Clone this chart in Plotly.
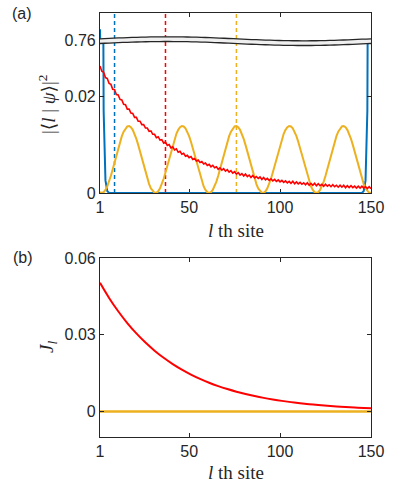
import numpy as np
import plotly.graph_objects as go

# ---- data -------------------------------------------------------------
sites = list(range(1, 151))

# |<l|psi>|^2 of the red state, units of 1e-4 (alternates from site to site)
red_a = [262, 251, 249, 238, 236, 226, 224, 214, 213, 203,
         202, 193, 192, 183, 182, 173, 173, 165, 164, 156,
         156, 148, 148, 141, 141, 134, 134, 127, 128, 121,
         121, 114, 116, 109, 110, 103, 105, 98, 100, 93,
         95, 89, 91, 84, 86, 80, 82, 76, 78, 73,
         75, 69, 71, 66, 68, 63, 65, 60, 62, 57,
         59, 54, 57, 52, 54, 49, 52, 47, 50, 45,
         48, 43, 46, 41, 44, 39, 42, 37, 40, 35,
         39, 34, 37, 32, 36, 31, 34, 30, 33, 28,
         32, 27, 30, 26, 29, 25, 28, 24, 27, 23,
         26, 22, 25, 21, 24, 20, 24, 19, 23, 19,
         22, 18, 21, 17, 21, 16, 20, 16, 20, 15,
         19, 15, 18, 14, 18, 14, 17, 13, 17, 13,
         16, 12, 16, 12, 16, 11, 15, 11, 15, 11,
         14, 10, 14, 10, 14, 10, 13, 9, 13, 9]

# |<l|psi>|^2 of the orange state, units of 1e-4
orange_a = [1.6,
            0, 1.6, 6.2, 13.6, 23.6, 35.6, 49.1, 63.5, 78.2, 92.4,
            105.6, 117.2, 126.5, 133.3, 137.1, 137.9, 135.6, 130.2, 122.1, 111.6,
            99.2, 85.4, 70.9, 56.2, 42.2, 29.3, 18.3, 9.5, 3.5, 0.4,
            0.4, 3.5, 9.5, 18.3, 29.3, 42.2, 56.2, 70.9, 85.4, 99.2,
            111.6, 122.1, 130.2, 135.6, 137.9, 137.1, 133.3, 126.5, 117.2, 105.6,
            92.4, 78.2, 63.5, 49.1, 35.6, 23.6, 13.6, 6.2, 1.6, 0,
            1.6, 6.2, 13.6, 23.6, 35.6, 49.1, 63.5, 78.2, 92.4, 105.6,
            117.2, 126.5, 133.3, 137.1, 137.9, 135.6, 130.2, 122.1, 111.6, 99.2,
            85.4, 70.9, 56.2, 42.2, 29.3, 18.3, 9.5, 3.5, 0.4, 0.4,
            3.5, 9.5, 18.3, 29.3, 42.2, 56.2, 70.9, 85.4, 99.2, 111.6,
            122.1, 130.2, 135.6, 137.9, 137.1, 133.3, 126.5, 117.2, 105.6, 92.4,
            78.2, 63.5, 49.1, 35.6, 23.6, 13.6, 6.2, 1.6, 0,
            1.6, 6.2, 13.6, 23.6, 35.6, 49.1, 63.5, 78.2, 92.4, 105.6,
            117.2, 126.5, 133.3, 137.1, 137.9, 135.6, 130.2, 122.1, 111.6, 99.2,
            85.4, 70.9, 56.2, 42.2, 29.3, 18.3, 9.5, 3.5, 0.4, 0.4]

# blue edge state, only non-zero at the two ends
blue_l = [1, 2, 3, 4, 5, 6, 145, 146, 147, 148, 149, 150]
blue_a = [0.776, 0.115, 0.017, 0.0026, 0.0004, 0, 0, 0.0004, 0.0026, 0.017, 0.115, 0.75]

# dashed markers (site)
mark_l = [9, 37, 76]

# current J_l, red, units of 1e-4
j_l = [1, 6, 11, 16, 21, 26, 31, 36, 41, 46, 51, 56, 61, 66, 71, 76,
       81, 86, 91, 96, 101, 106, 111, 116, 121, 126, 131, 136, 141, 146, 150]
j_red = [503, 443.9, 391.7, 345.7, 305.1, 269.2, 237.6, 209.7, 185.0, 163.3,
         144.1, 127.2, 112.2, 99.0, 87.4, 77.1, 68.1, 60.1, 53.0, 46.8,
         41.3, 36.4, 32.1, 28.4, 25.0, 22.1, 19.5, 17.2, 15.2, 13.4, 12.1]
j_orange_l = [1, 150]
j_orange = [0, 0]

BLUE, ORANGE, RED, AX = '#0072BD', '#EDB120', '#FF0000', '#262626'

# ---- geometry ---------------------------------------------------------
W, H = 399, 483
ML, MR, MT, MB = 100, 28, 13, 46
pw, ph = W - ML - MR, H - MT - MB


def fx(px):  # screen px -> paper
    return (px - ML) / pw


def fy(py):
    return (H - MB - py) / ph


dom_b = [0, fy(258)]
dom_lo = [fy(193), fy(40)]
dom_hi = [fy(40), 1]

fig = go.Figure()

# top panel, lower segment
fig.add_trace(go.Scatter(x=blue_l, y=blue_a, mode='lines', line=dict(color=BLUE, width=2),
                         xaxis='x', yaxis='y', showlegend=False))
fig.add_trace(go.Scatter(x=sites, y=[v * 1e-4 for v in orange_a], mode='lines',
                         line=dict(color=ORANGE, width=2), xaxis='x', yaxis='y', showlegend=False))
fig.add_trace(go.Scatter(x=sites, y=[v * 1e-4 for v in red_a], mode='lines',
                         line=dict(color=RED, width=1.6), xaxis='x', yaxis='y', showlegend=False))
# top panel, upper segment
fig.add_trace(go.Scatter(x=blue_l, y=blue_a, mode='lines', line=dict(color=BLUE, width=2),
                         xaxis='x', yaxis='y2', showlegend=False))
fig.add_trace(go.Scatter(x=[1, 150], y=[0.70, 0.70], mode='lines', line=dict(width=0),
                         xaxis='x3', yaxis='y2', showlegend=False, hoverinfo='skip'))
# bottom panel
fig.add_trace(go.Scatter(x=j_l, y=[v * 1e-4 for v in j_red], mode='lines', line_shape='spline',
                         line=dict(color=RED, width=2), xaxis='x2', yaxis='y3', showlegend=False))
fig.add_trace(go.Scatter(x=j_orange_l, y=j_orange, mode='lines',
                         line=dict(color=ORANGE, width=2.5), xaxis='x2', yaxis='y3', showlegend=False))

# dashed markers across the whole top panel
for m, c in zip(mark_l, [BLUE, RED, ORANGE]):
    fig.add_shape(type='line', xref='x', yref='paper', x0=m, x1=m, y0=dom_lo[0], y1=1,
                  line=dict(color=c, width=1.5, dash='4px,3px'), layer='below')

# axis break band
t = np.linspace(0, 1, 60)
up = 38.8 - 2.0 * np.sin(2 * np.pi * t)
lo = up + 4.7
xs = list(t)
top_pts = [(x, fy(y)) for x, y in zip(xs, up)]
bot_pts = [(x, fy(y)) for x, y in zip(xs, lo)]
band = 'M ' + ' L '.join(f'{x:.4f},{y:.4f}' for x, y in top_pts + bot_pts[::-1]) + ' Z'
fig.add_shape(type='path', xref='paper', yref='paper', path=band,
              fillcolor='#efefef', line=dict(width=0), layer='above')
for pts in (top_pts, bot_pts):
    fig.add_shape(type='path', xref='paper', yref='paper',
                  path='M ' + ' L '.join(f'{x:.4f},{y:.4f}' for x, y in pts),
                  line=dict(color=AX, width=1.3), layer='above')

tickfont = dict(family='Liberation Sans, Arial, sans-serif', size=16, color=AX)
common = dict(showgrid=False, zeroline=False, showline=True, linecolor=AX, linewidth=1.2,
              ticks='inside', ticklen=4, tickcolor=AX, tickwidth=1.2, tickfont=tickfont,
              automargin=False)
xticks = dict(tickvals=[1, 50, 100, 150], ticktext=['1', '50', '100', '150'])

fig.update_layout(
    width=W, height=H, margin=dict(l=ML, r=MR, t=MT, b=MB, autoexpand=False),
    paper_bgcolor='white', plot_bgcolor='white', hovermode=False,
    xaxis=dict(**common, **xticks, anchor='y', domain=[0, 1], range=[1, 150],
               layer='below traces', ticklabelstandoff=0),
    xaxis3=dict(**common, **xticks, anchor='y2', overlaying='x', side='top', range=[1, 150],
                showticklabels=False),
    yaxis=dict(**common, anchor='x', domain=dom_lo, range=[0, 0.02 * 153 / 97],
               tickvals=[0, 0.02], ticktext=['0', '0.02'], mirror='ticks'),
    yaxis2=dict(**common, anchor='x', domain=dom_hi, range=[0.76, 0.80],
                tickvals=[0.76], ticktext=['0.76'], mirror='ticks'),
    xaxis2=dict(**common, **xticks, anchor='y3', domain=[0, 1], range=[1, 150],
                mirror='ticks', ticklabelstandoff=0),
    yaxis3=dict(**common, anchor='x2', domain=dom_b, range=[-0.01, 0.06],
                tickvals=[0, 0.03, 0.06], ticktext=['0', '0.03', '0.06'], mirror='ticks'),
)

serif = dict(family='Liberation Serif, DejaVu Serif, serif', size=19, color=AX)
sans = dict(family='Liberation Sans, Arial, sans-serif', size=16, color=AX)
ann = [
    dict(text='(a)', x=fx(22), y=fy(13), font=sans),
    dict(text='(b)', x=fx(23), y=fy(257.5), font=sans),
    dict(text='|\u27e8<i>l</i> | <i>\u03c8</i>\u27e9|<sup>2</sup>', x=fx(47), y=fy(104),
         font=serif, textangle=-90),
    dict(text='<i>J<sub>l</sub></i>', x=fx(48), y=fy(347), font=serif, textangle=-90),
    dict(text='<i>l</i> th site', x=fx(235.5), y=fy(231), font=serif),
    dict(text='<i>l</i> th site', x=fx(235.5), y=fy(472), font=serif),
]
for a in ann:
    fig.add_annotation(xref='paper', yref='paper', showarrow=False,
                       xanchor='center', yanchor='middle', **a)

# the page gets a default body margin; drop it so the figure fills the window
fig.write_html("out.html", config={'displayModeBar': False},
               post_script="document.body.style.margin='0px';")
